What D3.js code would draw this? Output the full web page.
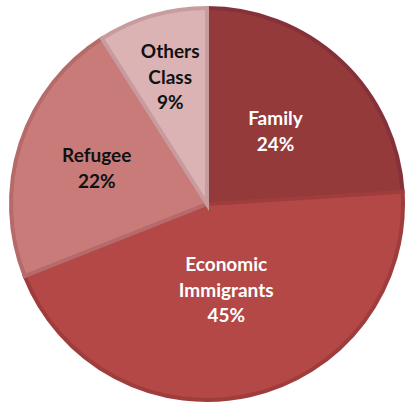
<!DOCTYPE html>
<html><head><meta charset="utf-8">
<script src="https://cdn.jsdelivr.net/npm/d3@7/dist/d3.min.js"></script>
<style>html,body{margin:0;padding:0;background:#fff;}svg{display:block;}</style>
</head><body>
<svg id="chart" width="406" height="404"></svg>
<script>
const categories = ["Family", "Economic Immigrants", "Refugee", "Others Class"];
const labelLines = [["Family"], ["Economic", "Immigrants"], ["Refugee"], ["Others", "Class"]];
const values = [24, 45, 22, 9];
const fills = ["#953a3b", "#b34847", "#c97b7a", "#dbb3b4"];
const strokes = ["#84313a", "#9f3d3d", "#b66a6a", "#c89c9e"];
const textColors = ["#ffffff", "#ffffff", "#111111", "#111111"];

const W = 406, H = 404, cx = 207, cy = 204, R = 196;
const labelRadius = [100, 88, 116, 132];

const svg = d3.select("#chart");
const g = svg.append("g").attr("transform", `translate(${cx},${cy})`);
const pie = d3.pie().sort(null).value(d => d)(values);
const arc = d3.arc().innerRadius(0).outerRadius(R);

g.selectAll("path.slice").data(pie).join("path")
  .attr("class", "slice")
  .attr("d", arc)
  .attr("fill", (d, i) => fills[i])
  .attr("stroke", (d, i) => strokes[i])
  .attr("stroke-width", 4)
  .attr("stroke-linejoin", "miter");

const lineH = 25.5;
pie.forEach((d, i) => {
  const a = (d.startAngle + d.endAngle) / 2;
  const r = labelRadius[i];
  const x = Math.sin(a) * r, y = -Math.cos(a) * r;
  const lines = labelLines[i].concat([values[i] + "%"]);
  const t = g.append("text")
    .attr("text-anchor", "middle")
    .attr("fill", textColors[i])
    .attr("font-family", "Lato, 'Open Sans', sans-serif")
    .attr("font-weight", "bold")
    .attr("font-size", 19);
  lines.forEach((ln, k) => {
    t.append("tspan")
      .attr("x", x)
      .attr("y", y + (k - (lines.length - 1) / 2) * lineH)
      .attr("dy", "0.35em")
      .text(ln);
  });
});
</script>
</body></html>
